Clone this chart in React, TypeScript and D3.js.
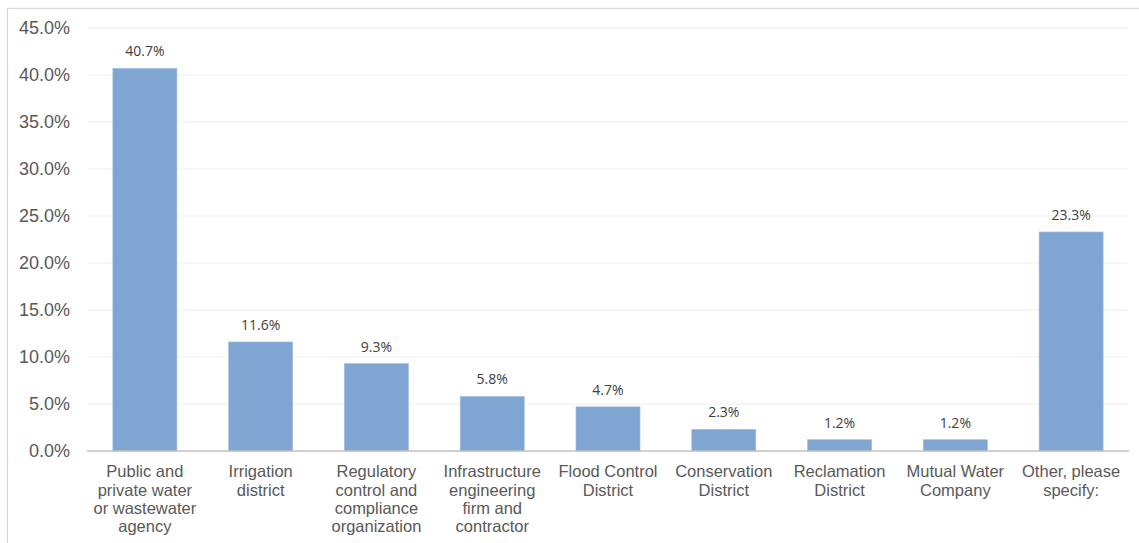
import React from "react";
import * as d3 from "d3";

const categories: string[][] = [
  ["Public and", "private water", "or wastewater", "agency"],
  ["Irrigation", "district"],
  ["Regulatory", "control and", "compliance", "organization"],
  ["Infrastructure", "engineering", "firm and", "contractor"],
  ["Flood Control", "District"],
  ["Conservation", "District"],
  ["Reclamation", "District"],
  ["Mutual Water", "Company"],
  ["Other, please", "specify:"],
];
const values: number[] = [40.7, 11.6, 9.3, 5.8, 4.7, 2.3, 1.2, 1.2, 23.3];
const yTicks: number[] = [0, 5, 10, 15, 20, 25, 30, 35, 40, 45];

const W = 1139;
const H = 543;
const left = 87;
const right = 1129;
const y0 = 451;
const yTop = 28;

export default function App() {
  const x = d3
    .scaleBand<number>()
    .domain(d3.range(values.length))
    .range([left, right])
    .paddingInner(0.447)
    .paddingOuter(0.2235);
  const y = d3.scaleLinear().domain([0, 45]).range([y0, yTop]);

  return (
    <svg
      width={W}
      height={H}
      style={{ position: "absolute", left: 0, top: 0, background: "#fff" }}
    >
      <rect x={7.5} y={8.5} width={W + 10} height={H + 10} fill="#fff" stroke="#d9d9d9" strokeWidth={1.2} />
      {yTicks.map((t) => (
        <g key={t}>
          {t > 0 && (
            <line x1={left} x2={right} y1={y(t)} y2={y(t)} stroke="#efefef" strokeWidth={1} />
          )}
          <text
            x={70}
            y={y(t)}
            dy="0.36em"
            textAnchor="end"
            fontFamily="Liberation Sans, Arial, sans-serif"
            fontSize={18}
            fill="#595959"
          >
            {t.toFixed(1) + "%"}
          </text>
        </g>
      ))}
      {values.map((v, i) => (
        <g key={i}>
          <rect
            x={x(i)}
            y={y(v)}
            width={x.bandwidth()}
            height={y0 - y(v)}
            fill="#7fa6d2"
            stroke="#9dbde0"
            strokeWidth={0.6}
          />
          <text
            x={(x(i) as number) + x.bandwidth() / 2}
            y={y(v) - 12}
            textAnchor="middle"
            fontFamily="Open Sans, sans-serif"
            fontSize={14}
            fill="#404040"
          >
            {v.toFixed(1) + "%"}
          </text>
          {categories[i].map((line, j) => (
            <text
              key={j}
              x={(x(i) as number) + x.bandwidth() / 2}
              y={471.5 + j * 18.3}
              dy="0.36em"
              textAnchor="middle"
              fontFamily="Liberation Sans, Arial, sans-serif"
              fontSize={16.5}
              fill="#595959"
            >
              {line}
            </text>
          ))}
        </g>
      ))}
      <line x1={left} x2={right} y1={y0} y2={y0} stroke="#c0c0c0" strokeWidth={1.5} />
    </svg>
  );
}
